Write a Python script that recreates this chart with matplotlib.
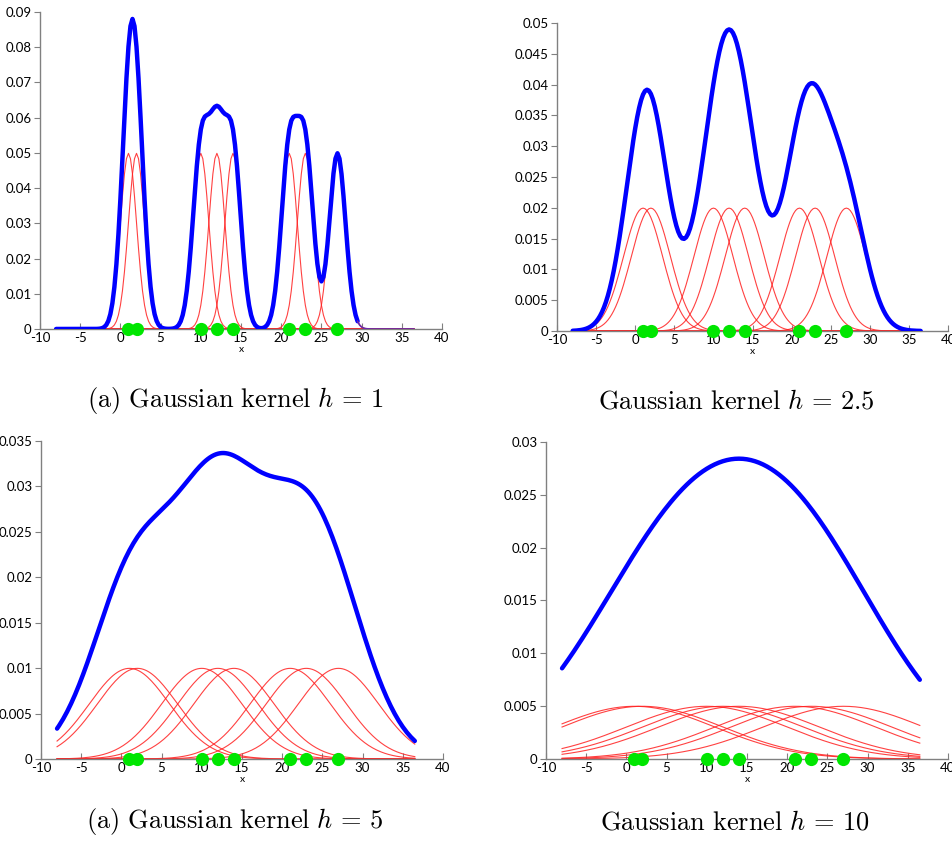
import matplotlib
matplotlib.use("Agg")
import matplotlib.pyplot as plt
import numpy as np

plt.rcParams['font.family'] = ['Lato', 'DejaVu Sans']
plt.rcParams['mathtext.fontset'] = 'cm'

# sample points and bandwidths
points = [1, 2, 10, 12, 14, 21, 23, 27]
bandwidths = [1, 2.5, 5, 10]
captions = [r"$\mathrm{(a)\ Gaussian\ kernel}\ h\,=\,1$",
            r"$\mathrm{Gaussian\ kernel}\ h\,=\,2.5$",
            r"$\mathrm{(a)\ Gaussian\ kernel}\ h\,=\,5$",
            r"$\mathrm{Gaussian\ kernel}\ h\,=\,10$"]
ytick_vals = [
    [0, 0.01, 0.02, 0.03, 0.04, 0.05, 0.06, 0.07, 0.08, 0.09],
    [0, 0.005, 0.01, 0.015, 0.02, 0.025, 0.03, 0.035, 0.04, 0.045, 0.05],
    [0, 0.005, 0.01, 0.015, 0.02, 0.025, 0.03, 0.035],
    [0, 0.005, 0.01, 0.015, 0.02, 0.025, 0.03],
]
xtick_vals = [-10, -5, 0, 5, 10, 15, 20, 25, 30, 35, 40]
x_start, x_end, x_step = -8, 36.5, 0.25

# axes boxes in figure fractions (left, bottom, width, height)
boxes = [(0.042, 0.6093, 0.4218, 0.3765),
         (0.5845, 0.6069, 0.4103, 0.3658),
         (0.043, 0.0986, 0.4218, 0.3777),
         (0.5729, 0.0986, 0.4218, 0.3765)]
cap_pos = [(0.2466, 0.5238), (0.773, 0.5238), (0.2466, 0.0238), (0.771, 0.0238)]


def kernel(x, c, h, n):
    return np.exp(-0.5 * ((x - c) / h) ** 2) / (n * h * np.sqrt(2 * np.pi))


fig = plt.figure(figsize=(9.53, 8.42), dpi=100)
grid = np.arange(x_start, x_end + 1e-9, x_step)
n = len(points)

for i, h in enumerate(bandwidths):
    ax = fig.add_axes(boxes[i])
    total = np.zeros_like(grid)
    for p in points:
        k = kernel(grid, p, h, n)
        total += k
        ax.plot(grid, k, color='#ff2020', lw=0.8, alpha=0.85, zorder=2)
    if h == 1:
        # the thick line stops short, thin purple tail after it
        m = grid <= 29.5
        ax.plot(grid[m], total[m], color='#0000ff', lw=3.2, zorder=3,
                solid_capstyle='round', solid_joinstyle='round')
        t = grid >= 29.5
        ax.plot(grid[t], total[t], color='#6a2aa8', lw=1.2, zorder=3)
    else:
        ax.plot(grid, total, color='#0000ff', lw=3.2, zorder=3,
                solid_capstyle='round', solid_joinstyle='round')
    ax.plot(points, np.zeros(n), 'o', color='#00e600', ms=9.5, mec='none',
            zorder=4, clip_on=False)

    yt = ytick_vals[i]
    ax.set_xlim(-10, 40)
    ax.set_ylim(0, yt[-1])
    ax.set_xticks(xtick_vals)
    ax.set_xticklabels([str(v) for v in xtick_vals])
    ax.set_yticks(yt)
    ax.set_yticklabels(['0' if v == 0 else ('%g' % v) for v in yt])
    for s in ['top', 'right']:
        ax.spines[s].set_visible(False)
    for s in ['left', 'bottom']:
        ax.spines[s].set_color('#808080')
        ax.spines[s].set_linewidth(1.0)
    ax.tick_params(axis='x', direction='in', length=4, color='#808080',
                   labelsize=9.5, pad=2)
    ax.tick_params(axis='y', direction='out', length=4, color='#808080',
                   labelsize=9.5, pad=2)
    ax.set_xlabel('x', fontsize=7.5, labelpad=1)
    fig.text(cap_pos[i][0], cap_pos[i][1], captions[i], ha='center',
             va='center', fontsize=19)

fig.savefig('out.png', dpi=100)
